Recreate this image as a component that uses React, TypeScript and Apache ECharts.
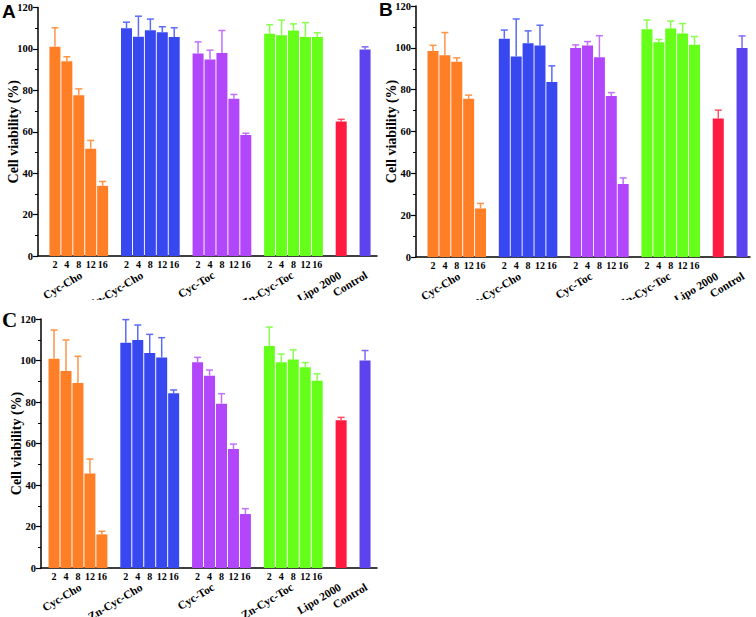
import React, { useEffect, useRef } from 'react';
import * as echarts from 'echarts';

// ---------- shared categories ----------
const doseLabels = ['2', '4', '8', '12', '16'];
const groupNames = ['Cyc-Cho', 'Zn-Cyc-Cho', 'Cyc-Toc', 'Zn-Cyc-Toc', 'Lipo 2000', 'Control'];
const groupStartSlots = [0, 6, 12, 18, 24, 26];
const groupLabelSlots = [2.2, 7.3, 13.3, 19.9, 23.9, 26.1];
const yTicks = [0, 20, 40, 60, 80, 100, 120];

const barColors = ['#FF7F27', '#3848F0', '#B246FA', '#66FF1A', '#FF1A40', '#5B44EE'];
const errorColors = ['#FF9448', '#5B6BF5', '#C270FF', '#88FF4C', '#FF5064', '#7C6CF5'];

// ---------- panel A ----------
const aCycChoMean = [101.0, 94.1, 77.6, 51.8, 33.9];
const aCycChoSd = [9.2, 2.1, 3.1, 4.0, 2.1];
const aZnCycChoMean = [110.0, 105.9, 109.0, 108.1, 105.8];
const aZnCycChoSd = [2.9, 9.9, 5.4, 2.6, 4.4];
const aCycTocMean = [97.8, 94.9, 98.0, 75.9, 58.4];
const aCycTocSd = [5.6, 4.5, 10.9, 2.1, 0.9];
const aZnCycTocMean = [107.3, 106.6, 108.9, 105.8, 105.8];
const aZnCycTocSd = [4.4, 7.3, 3.2, 6.9, 2.0];
const aLipoMean = [65.0];
const aLipoSd = [1.0];
const aControlMean = [99.7];
const aControlSd = [1.3];

// ---------- panel B ----------
const bCycChoMean = [98.5, 96.4, 93.3, 75.7, 23.2];
const bCycChoSd = [2.7, 10.9, 1.9, 1.7, 2.4];
const bZnCycChoMean = [104.4, 95.8, 102.2, 101.1, 83.7];
const bZnCycChoSd = [4.1, 18.0, 5.9, 9.7, 7.7];
const bCycTocMean = [99.9, 101.1, 95.5, 77.0, 34.9];
const bCycTocSd = [1.5, 1.9, 10.3, 1.6, 2.9];
const bZnCycTocMean = [108.9, 102.7, 109.2, 106.8, 101.5];
const bZnCycTocSd = [4.4, 1.3, 3.6, 4.8, 3.9];
const bLipoMean = [66.2];
const bLipoSd = [4.0];
const bControlMean = [99.9];
const bControlSd = [5.8];

// ---------- panel C ----------
const cCycChoMean = [100.9, 94.9, 89.2, 45.5, 16.2];
const cCycChoSd = [13.8, 15.0, 12.8, 7.0, 1.5];
const cZnCycChoMean = [108.6, 109.9, 103.6, 101.5, 84.2];
const cZnCycChoSd = [11.1, 7.2, 9.0, 9.5, 1.6];
const cCycTocMean = [99.1, 92.7, 79.2, 57.3, 26.0];
const cCycTocSd = [2.4, 2.7, 4.8, 2.4, 2.6];
const cZnCycTocMean = [107.0, 99.2, 100.5, 96.8, 90.2];
const cZnCycTocSd = [9.1, 3.9, 4.6, 2.2, 3.4];
const cLipoMean = [71.2];
const cLipoSd = [1.4];
const cControlMean = [100.0];
const cControlSd = [4.8];

type Layout = {
  letter: string;
  letterFont: string;
  letterX: number;
  letterY: number;
  left: number;
  top: number;
  width: number;
  height: number;
  xMin: number;
  xMax: number;
  groupMargin: number;
};

const SERIF = "'Liberation Serif', 'Times New Roman', serif";
const SANS = "'Liberation Sans', Arial, sans-serif";

function groupAxis(L: Layout, which: number[]) {
  const values = which.map((g) => groupLabelSlots[g]);
  const map: Record<string, string> = {};
  which.forEach((g) => (map[String(groupLabelSlots[g])] = groupNames[g]));
  return {
    type: 'value',
    min: L.xMin,
    max: L.xMax,
    position: 'bottom',
    axisLine: { show: false, onZero: false },
    axisTick: { show: false },
    splitLine: { show: false },
    axisLabel: {
      customValues: values,
      formatter: (v: number) => map[String(v)] ?? '',
      showMinLabel: true,
      showMaxLabel: true,
      hideOverlap: false,
      rotate: 31,
      color: '#000',
      fontFamily: SERIF,
      fontWeight: 'bold',
      fontSize: 11.5,
      margin: L.groupMargin,
    },
  };
}

function buildOption(means: number[][], sds: number[][], L: Layout) {
  const barData: any[] = [];
  const errData: number[][] = [];
  const doseSlots: number[] = [];
  const doseMap: Record<string, string> = {};
  means.forEach((arr, g) => {
    arr.forEach((m, i) => {
      const slot = groupStartSlots[g] + i;
      barData.push({ value: [slot, m], itemStyle: { color: barColors[g] } });
      errData.push([slot, m, m + sds[g][i], g]);
      if (arr.length === doseLabels.length) {
        doseSlots.push(slot);
        doseMap[String(slot)] = doseLabels[i];
      }
    });
  });

  return {
    animation: false,
    backgroundColor: 'transparent',
    grid: {
      left: L.left,
      top: L.top,
      width: L.width,
      height: L.height,
      containLabel: false,
      outerBoundsMode: 'none',
    },
    xAxis: [
      {
        type: 'value',
        min: L.xMin,
        max: L.xMax,
        position: 'bottom',
        axisLine: { show: true, onZero: false, lineStyle: { color: '#000', width: 1.5 } },
        axisTick: { show: false },
        splitLine: { show: false },
        axisLabel: {
          customValues: doseSlots,
          formatter: (v: number) => doseMap[String(v)] ?? '',
          showMinLabel: true,
          showMaxLabel: true,
          hideOverlap: false,
          color: '#000',
          fontFamily: SERIF,
          fontWeight: 'bold',
          fontSize: 10,
          margin: 3,
        },
      },
      groupAxis(L, [0, 2, 4]),
      groupAxis(L, [1, 3, 5]),
    ],
    yAxis: {
      type: 'value',
      min: 0,
      max: 120,
      interval: 20,
      name: 'Cell viability (%)',
      nameLocation: 'middle',
      nameGap: 18,
      nameMoveOverlap: false,
      nameTextStyle: { color: '#000', fontFamily: SERIF, fontWeight: 'bold', fontSize: 14 },
      axisLine: { show: true, onZero: false, lineStyle: { color: '#000', width: 1.5 } },
      axisTick: { show: true, length: 5, lineStyle: { color: '#000', width: 1.2 } },
      minorTick: { show: true, splitNumber: 2, length: 3, lineStyle: { color: '#000', width: 1 } },
      splitLine: { show: false },
      axisLabel: {
        formatter: (v: number) => (yTicks.includes(v) ? String(v) : ''),
        color: '#000',
        fontFamily: SERIF,
        fontWeight: 'bold',
        fontSize: 10.5,
        margin: 5,
      },
    },
    graphic: [
      {
        type: 'text',
        left: L.letterX,
        top: L.letterY,
        style: { text: L.letter, font: L.letterFont, fill: '#000' },
      },
    ],
    series: [
      {
        type: 'bar',
        xAxisIndex: 0,
        yAxisIndex: 0,
        barWidth: 11,
        data: barData,
        z: 2,
      },
      {
        type: 'custom',
        xAxisIndex: 0,
        yAxisIndex: 0,
        data: errData,
        encode: { x: 0, y: 2 },
        z: 3,
        clip: false,
        renderItem: (params: any, api: any) => {
          const x = api.value(0);
          const p0 = api.coord([x, api.value(1)]);
          const p1 = api.coord([x, api.value(2)]);
          const c = errorColors[api.value(3)];
          return {
            type: 'group',
            children: [
              {
                type: 'line',
                shape: { x1: p0[0], y1: p0[1], x2: p1[0], y2: p1[1] },
                style: { stroke: c, lineWidth: 1.5 },
              },
              {
                type: 'line',
                shape: { x1: p1[0] - 3.5, y1: p1[1], x2: p1[0] + 3.5, y2: p1[1] },
                style: { stroke: c, lineWidth: 1.5 },
              },
            ],
          };
        },
      },
    ],
  };
}

function Panel(props: { means: number[][]; sds: number[][]; layout: Layout; box: { left: number; top: number; width: number; height: number } }) {
  const ref = useRef<HTMLDivElement>(null);
  useEffect(() => {
    if (!ref.current) return;
    const chart = echarts.init(ref.current, undefined, { renderer: 'svg' });
    chart.setOption(buildOption(props.means, props.sds, props.layout) as any);
    return () => chart.dispose();
  }, []);
  const b = props.box;
  return (
    <div
      ref={ref}
      style={{ position: 'absolute', left: b.left, top: b.top, width: b.width, height: b.height, overflow: 'hidden' }}
    />
  );
}

export default function App() {
  useEffect(() => {
    document.body.style.margin = '0';
  }, []);
  const layoutA: Layout = {
    letter: 'A', letterFont: `bold 19px ${SANS}`, letterX: 2, letterY: 2,
    left: 38, top: 7.5, width: 339, height: 248.5, xMin: -1.42, xMax: 27.0, groupMargin: 18,
  };
  const layoutB: Layout = {
    letter: 'B', letterFont: `bold 19px ${SANS}`, letterX: 3, letterY: 0,
    left: 40, top: 6, width: 334, height: 251, xMin: -1.43, xMax: 26.67, groupMargin: 18,
  };
  const layoutC: Layout = {
    letter: 'C', letterFont: `bold 21px ${SERIF}`, letterX: 2, letterY: 4,
    left: 41, top: 14, width: 336, height: 249, xMin: -1.09, xMax: 27.0, groupMargin: 18,
  };
  return (
    <div style={{ position: 'absolute', left: 0, top: 0, width: 756, height: 617, background: '#fff' }}>
      <Panel
        means={[aCycChoMean, aZnCycChoMean, aCycTocMean, aZnCycTocMean, aLipoMean, aControlMean]}
        sds={[aCycChoSd, aZnCycChoSd, aCycTocSd, aZnCycTocSd, aLipoSd, aControlSd]}
        layout={layoutA}
        box={{ left: 0, top: 0, width: 378, height: 300 }}
      />
      <Panel
        means={[bCycChoMean, bZnCycChoMean, bCycTocMean, bZnCycTocMean, bLipoMean, bControlMean]}
        sds={[bCycChoSd, bZnCycChoSd, bCycTocSd, bZnCycTocSd, bLipoSd, bControlSd]}
        layout={layoutB}
        box={{ left: 376, top: 0, width: 380, height: 300 }}
      />
      <Panel
        means={[cCycChoMean, cZnCycChoMean, cCycTocMean, cZnCycTocMean, cLipoMean, cControlMean]}
        sds={[cCycChoSd, cZnCycChoSd, cCycTocSd, cZnCycTocSd, cLipoSd, cControlSd]}
        layout={layoutC}
        box={{ left: 0, top: 305, width: 380, height: 312 }}
      />
    </div>
  );
}
